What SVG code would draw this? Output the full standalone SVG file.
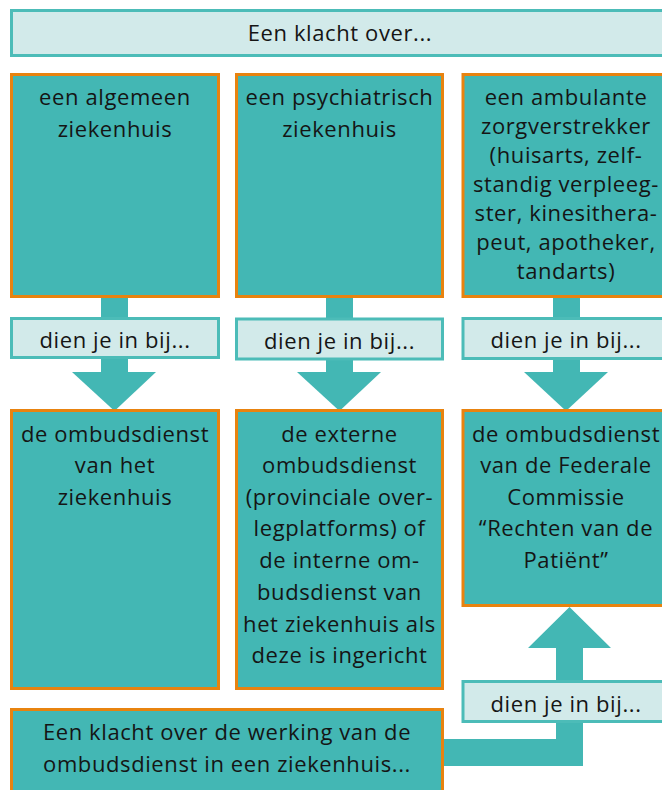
<svg xmlns="http://www.w3.org/2000/svg" width="662" height="790" viewBox="0 0 662 790">
<style>
.node{fill:#43b7b4;stroke:#e8830f;stroke-width:3}
.label{fill:#d2eaea;stroke:#4cbcb8;stroke-width:3}
.conn{fill:#43b7b4;stroke:none}
text{font-family:"Open Sans","Liberation Sans",sans-serif;font-size:22px;letter-spacing:0.6px;fill:#151515;text-anchor:middle}
</style>
<rect width="662" height="790" fill="#ffffff"/>
<g id="connectors">
<rect class="conn" x="101" y="296" width="27" height="78"/>
<polygon class="conn" points="72,372 156,372 114.5,411"/>
<rect class="conn" x="326" y="296" width="27" height="78"/>
<polygon class="conn" points="297,372 381,372 339.5,411"/>
<rect class="conn" x="553" y="296" width="27" height="78"/>
<polygon class="conn" points="524,372 608,372 566,411"/>
<path class="conn" d="M443,739 H556 V648 H528 L569.5,607 L611,648 H583 V766 H443 Z"/>
</g>
<g id="header">
<rect class="label" x="11.5" y="10.5" width="660" height="45"/>
<text x="340" y="41">Een klacht over...</text>
</g>
<g id="top-algemeen">
<rect class="node" x="11.5" y="74.5" width="207" height="222"/>
<text x="115" y="105">een algemeen</text>
<text x="115" y="137">ziekenhuis</text>
</g>
<g id="top-psychiatrisch">
<rect class="node" x="236.5" y="74.5" width="206" height="222"/>
<text x="339.5" y="105">een psychiatrisch</text>
<text x="339.5" y="137">ziekenhuis</text>
</g>
<g id="top-ambulant">
<rect class="node" x="463" y="74.5" width="206" height="222"/>
<text x="566" y="105">een ambulante</text>
<text x="566" y="134">zorgverstrekker</text>
<text x="566" y="163">(huisarts, zelf-</text>
<text x="566" y="192">standig verpleeg-</text>
<text x="566" y="221">ster, kinesithera-</text>
<text x="566" y="250">peut, apotheker,</text>
<text x="566" y="279">tandarts)</text>
</g>
<g id="label-1">
<rect class="label" x="11.5" y="318.5" width="207" height="39"/>
<text x="115" y="348">dien je in bij...</text>
</g>
<g id="label-2">
<rect class="label" x="236.5" y="319" width="206" height="40"/>
<text x="339.5" y="349">dien je in bij...</text>
</g>
<g id="label-3">
<rect class="label" x="463" y="318.5" width="206" height="40"/>
<text x="566" y="348">dien je in bij...</text>
</g>
<g id="bottom-algemeen">
<rect class="node" x="11.5" y="410.5" width="207" height="278"/>
<text x="115" y="442">de ombudsdienst</text>
<text x="115" y="473">van het</text>
<text x="115" y="505">ziekenhuis</text>
</g>
<g id="bottom-psychiatrisch">
<rect class="node" x="236.5" y="410.5" width="206" height="278"/>
<text x="339.5" y="442">de externe</text>
<text x="339.5" y="473">ombudsdienst</text>
<text x="339.5" y="505">(provinciale over-</text>
<text x="339.5" y="536">legplatforms) of</text>
<text x="339.5" y="568">de interne om-</text>
<text x="339.5" y="600">budsdienst van</text>
<text x="339.5" y="632">het ziekenhuis als</text>
<text x="339.5" y="663">deze is ingericht</text>
</g>
<g id="bottom-federaal">
<rect class="node" x="463" y="410.5" width="206" height="195"/>
<text x="566" y="442">de ombudsdienst</text>
<text x="566" y="473">van de Federale</text>
<text x="566" y="505">Commissie</text>
<text x="566" y="536">“Rechten van de</text>
<text x="566" y="568">Patiënt”</text>
</g>
<g id="label-4">
<rect class="label" x="463" y="681.5" width="206" height="40"/>
<text x="566" y="712">dien je in bij...</text>
</g>
<g id="werking">
<rect class="node" x="11.5" y="709.5" width="431" height="90"/>
<text x="227" y="740">Een klacht over de werking van de</text>
<text x="227" y="772">ombudsdienst in een ziekenhuis...</text>
</g>
</svg>
